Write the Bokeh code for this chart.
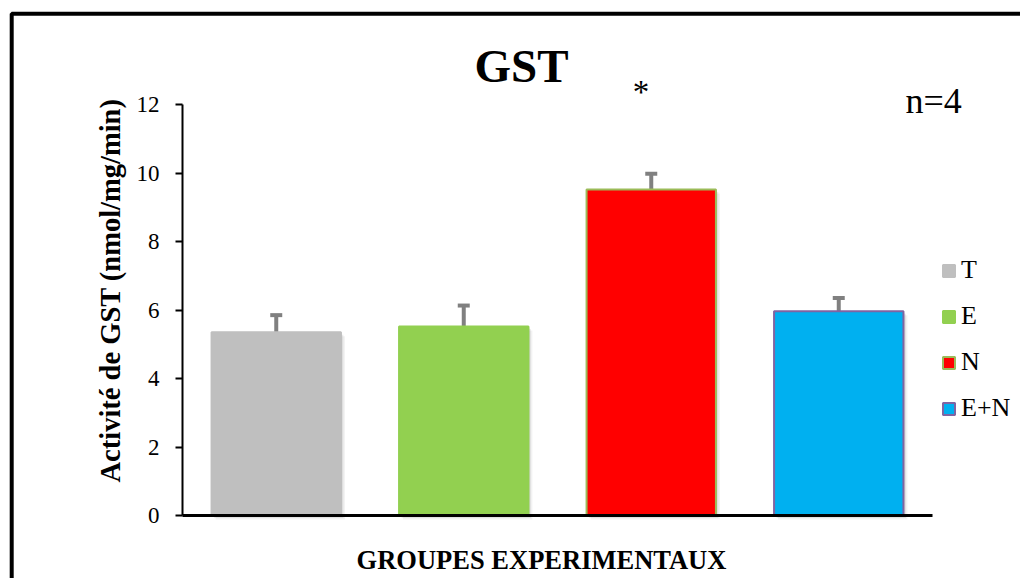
import math
from bokeh.plotting import figure
from bokeh.models import (ColumnDataSource, Range1d, LinearAxis, FixedTicker,
                          Whisker, TeeHead, Label, Legend, LegendItem, BoxAnnotation)
from bokeh.embed import file_html
from bokeh.resources import INLINE

# ---- data ----
groups = ["T", "E", "N", "E+N"]
values = [5.35, 5.52, 9.52, 5.96]
errors = [0.50, 0.61, 0.46, 0.39]
fill_colors = ["#bfbfbf", "#92d050", "#ff0000", "#00b0f0"]
line_colors = ["#bfbfbf", "#92d050", "#9bbb59", "#8064a2"]
y_ticks = [0, 2, 4, 6, 8, 10, 12]
y_max = 12
title_text = "GST"
n_text = "n=4"
signif_text = "*"
signif_group = "N"
x_label = "GROUPES EXPERIMENTAUX"
y_label = "Activité de GST (nmol/mg/min)"

FONT = "Liberation Serif"

# ---- layout (canvas pixels) ----
W, H = 1020, 578
AX_L, AX_R, AX_T, AX_B = 182, 932, 104, 515   # where the axes sit on the canvas
n = len(groups)
ppx = (AX_R - AX_L) / n        # px per category
ppy = (AX_B - AX_T) / y_max    # px per y unit

def dx(px):
    return (px - AX_L) / ppx

def dy(py):
    return (AX_B - py) / ppy

p = figure(width=W, height=H, output_backend="svg", toolbar_location=None, title=None,
           x_range=Range1d(dx(0), dx(W)), y_range=Range1d(dy(H), dy(0)),
           min_border=0, x_axis_location=None, y_axis_location=None)
p.outline_line_color = None
p.grid.visible = False
p.background_fill_color = "white"
p.border_fill_color = "white"

xpos = [i + 0.5 for i in range(n)]
src = ColumnDataSource(dict(x=xpos, group=groups, value=values,
                            upper=[v + e for v, e in zip(values, errors)],
                            fill=fill_colors, line=line_colors))

# soft shadow behind bars (offset a few pixels right / down)
for off, alpha in [(4, 0.05), (2.5, 0.07), (1.2, 0.08)]:
    p.vbar(x=[xv + off / ppx for xv in xpos], top=[v - off / ppy for v in values],
           bottom=dy(AX_B + off), width=0.69, fill_color="black", fill_alpha=alpha,
           line_color=None)

bars = p.vbar(x="x", top="value", width=0.69, source=src,
              fill_color="fill", line_color="line", line_width=2)

wh = Whisker(base="x", lower="value", upper="upper", source=src,
             line_color="#808080", line_width=4, lower_head=None,
             upper_head=TeeHead(size=12, line_color="#808080", line_width=4))
p.add_layout(wh)

# y axis (placed at x = 0 inside the canvas)
yax = LinearAxis(fixed_location=0, bounds=(0, y_max),
                 ticker=FixedTicker(ticks=y_ticks, minor_ticks=[]),
                 major_label_text_font=FONT, major_label_text_font_size="23px",
                 major_label_text_color="black", major_label_standoff=16,
                 axis_line_width=2, axis_line_color="black",
                 major_tick_line_width=2, major_tick_line_color="black",
                 major_tick_in=0, major_tick_out=7,
                 minor_tick_line_color=None)
p.add_layout(yax, "left")

# x axis (line only)
xax = LinearAxis(fixed_location=0, bounds=(0, n),
                 ticker=FixedTicker(ticks=[], minor_ticks=[]),
                 axis_line_width=3, axis_line_color="black",
                 major_tick_line_color=None, minor_tick_line_color=None,
                 major_label_text_font_size="0px")
p.add_layout(xax, "below")

# frame border (top + left visible)
p.add_layout(BoxAnnotation(left=dx(11.2), right=dx(W + 60), top=dy(13.3), bottom=dy(H + 60),
                           fill_alpha=0, line_color="black", line_alpha=1, line_width=4))

# title & annotations
p.add_layout(Label(x=dx(521), y=dy(65), text=title_text, text_font=FONT, text_color="black",
                   text_font_style="bold", text_font_size="47px", text_align="center",
                   text_baseline="alphabetic"))
p.add_layout(Label(x=dx(905), y=dy(100), text=n_text, text_font=FONT, text_color="black",
                   text_font_size="36px", text_align="left", text_baseline="alphabetic"))
p.add_layout(Label(x=groups.index(signif_group) + 0.5 - 0.055, y=dy(91), text=signif_text,
                   text_font=FONT, text_color="black", text_font_size="33px",
                   text_align="center", text_baseline="alphabetic"))
p.add_layout(Label(x=dx(541), y=dy(559), text=x_label, text_font=FONT, text_color="black",
                   text_font_style="bold", text_font_size="26.5px", text_align="center",
                   text_baseline="alphabetic"))
p.add_layout(Label(x=dx(110), y=dy(290), text=y_label, text_font=FONT, text_color="black",
                   text_font_style="bold", text_font_size="28.5px", text_align="center",
                   text_baseline="middle", angle=math.pi / 2))

legend = Legend(items=[LegendItem(label=g, renderers=[bars], index=i) for i, g in enumerate(groups)],
                location=(941, H - 423), orientation="vertical",
                padding=0, margin=0, border_line_color=None, background_fill_alpha=0,
                glyph_width=15, glyph_height=15, label_standoff=5, label_height=30,
                spacing=16, label_text_font=FONT, label_text_font_size="26px",
                label_text_color="black")
p.add_layout(legend)

open("out.html", "w").write(file_html(p, INLINE))
